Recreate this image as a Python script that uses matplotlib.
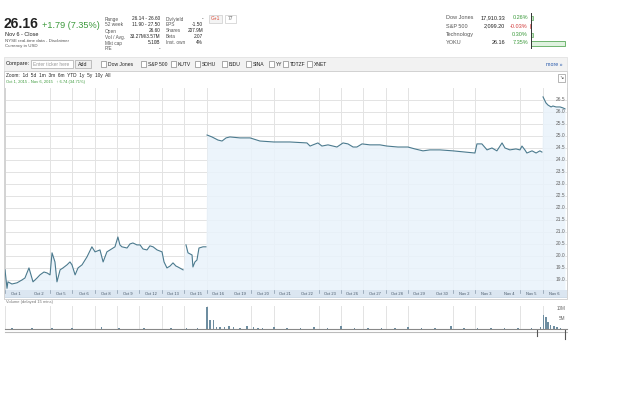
import matplotlib
matplotlib.use("Agg")
import matplotlib.pyplot as plt
from matplotlib.patches import Rectangle

plt.rcParams['font.family'] = ['Liberation Sans', 'DejaVu Sans']

W, H = 638, 399

# price readings: trading-day position (0 = Oct 1 open) and price in USD
seg_a_days = [0.00, 0.09, 0.13, 0.31, 0.54, 0.76, 0.89, 1.07, 1.25, 1.43, 1.56, 1.74, 1.88,
              2.01, 2.10, 2.23, 2.32, 2.46, 2.59, 2.77, 2.90, 2.99, 3.13, 3.26, 3.44, 3.66,
              3.88, 4.02, 4.24, 4.38, 4.55, 4.69, 4.91, 5.04, 5.13, 5.22, 5.45, 5.58, 5.71,
              5.89, 6.03, 6.16, 6.34, 6.47, 6.61, 6.79, 7.01, 7.10, 7.23, 7.37, 7.50, 7.63,
              7.72, 7.95]
seg_a_price = [19.42, 18.65, 18.92, 18.83, 18.88, 19.00, 19.08, 19.50, 18.92, 19.08, 19.21,
               19.33, 19.29, 19.21, 20.13, 19.75, 18.92, 19.42, 19.50, 19.63, 19.75, 19.63,
               19.21, 19.50, 19.63, 19.96, 20.38, 20.17, 20.25, 19.75, 20.17, 20.25, 20.38,
               20.79, 20.46, 20.38, 20.33, 20.50, 20.54, 20.46, 20.46, 20.29, 20.25, 20.42,
               20.38, 20.25, 20.17, 19.75, 19.50, 19.58, 19.71, 19.58, 19.54, 19.42]
seg_b_days = [8.08, 8.17, 8.35, 8.39, 8.48, 8.57, 8.66, 8.84, 8.97]
seg_b_price = [20.46, 20.13, 20.04, 19.54, 19.75, 19.83, 20.33, 20.38, 20.38]
seg_c_days = [9.02, 9.24, 9.51, 9.69, 9.87, 10.04, 10.49, 10.94, 11.38, 12.00, 12.72, 13.48,
              13.62, 13.75, 13.97, 14.15, 14.42, 14.82, 15.09, 15.31, 15.54, 15.71, 15.94,
              16.29, 16.74, 17.05, 17.54, 17.99, 18.30, 18.66, 18.97, 19.42, 20.00, 20.54,
              20.98, 21.07, 21.29, 21.52, 21.74, 21.96, 22.19, 22.32, 22.54, 22.81, 22.99,
              23.08, 23.21, 23.30, 23.53, 23.71, 23.88, 23.97]
seg_c_price = [25.04, 24.96, 24.83, 24.79, 24.92, 24.96, 24.92, 24.92, 24.79, 24.75, 24.75,
               24.71, 24.58, 24.63, 24.71, 24.58, 24.63, 24.54, 24.71, 24.67, 24.54, 24.54,
               24.67, 24.63, 24.63, 24.58, 24.54, 24.54, 24.46, 24.38, 24.42, 24.42, 24.38,
               24.33, 24.29, 24.67, 24.67, 24.42, 24.50, 24.38, 24.71, 24.50, 24.42, 24.46,
               24.42, 24.58, 24.42, 24.29, 24.38, 24.29, 24.38, 24.33]
seg_d_days = [24.02, 24.15, 24.24, 24.38, 24.46, 24.60, 24.78, 24.91, 25.00]
seg_d_price = [26.63, 26.38, 26.29, 26.21, 26.25, 26.21, 26.21, 26.17, 26.13]

# volume readings (millions)
vol_days = [0.3, 1.2, 2.1, 3.0, 4.3, 5.1, 6.2, 7.4, 8.1, 8.6,
            9.02, 9.15, 9.30, 9.45, 9.6, 9.8, 10.0, 10.2, 10.5, 10.8, 11.1, 11.3, 11.5,
            12.0, 12.6, 13.2, 13.8, 14.4, 15.0, 15.6, 16.2, 16.8, 17.4, 18.0, 18.6, 19.2,
            19.9, 20.5, 21.1, 21.7, 22.3, 22.9, 23.5, 23.9,
            24.05, 24.15, 24.25, 24.35, 24.5, 24.65, 24.8]
vol_m = [0.5, 0.4, 0.6, 0.4, 0.8, 0.5, 0.4, 0.5, 0.6, 0.7,
         10.5, 4.3, 4.3, 0.9, 1.0, 0.8, 1.2, 0.9, 0.7, 1.4, 0.8, 0.6, 0.7,
         0.9, 0.6, 0.7, 0.8, 0.6, 1.2, 0.6, 0.7, 0.5, 0.6, 0.9, 0.6, 0.5,
         1.5, 0.6, 0.7, 0.5, 0.6, 0.5, 0.6, 0.8,
         6.7, 5.7, 3.3, 1.9, 1.2, 0.8, 0.6]

day_labels = ['Oct 1', 'Oct 2', 'Oct 5', 'Oct 6', 'Oct 8', 'Oct 9', 'Oct 12', 'Oct 13',
              'Oct 15', 'Oct 16', 'Oct 19', 'Oct 20', 'Oct 21', 'Oct 22', 'Oct 23',
              'Oct 26', 'Oct 27', 'Oct 28', 'Oct 29', 'Oct 30', 'Nov 2', 'Nov 3',
              'Nov 4', 'Nov 5', 'Nov 6']
grid_days = [0, 2, 3, 4, 5, 6, 7, 8, 9, 11, 12, 14, 15, 16, 17, 18, 20, 21, 23, 24]
price_ticks = [26.5, 26.0, 25.5, 25.0, 24.5, 24.0, 23.5, 23.0, 22.5, 22.0, 21.5, 21.0,
               20.5, 20.0, 19.5, 19.0]
cmp_names = ['Dow Jones', 'S&P 500', 'KUTV', 'SOHU', 'BIDU', 'SINA', 'YY', 'TDTZF', 'XNET']


def box(x0, y0, x1, y1):
    return [x0 / W, 1 - y1 / H, (x1 - x0) / W, (y1 - y0) / H]


fig = plt.figure(figsize=(W / 100, H / 100), dpi=100)
fig.patch.set_facecolor('white')

# page overlay in pixel coordinates
pg = fig.add_axes([0, 0, 1, 1])
pg.set_xlim(0, W)
pg.set_ylim(H, 0)
pg.axis('off')

green = '#3c9a3c'
red = '#d23c3c'
grey = '#555555'

pg.text(4, 28.5, '26.16', fontsize=10, fontweight='bold', color='#222222', va='baseline')
pg.text(42, 28.5, '+1.79 (7.35%)', fontsize=6.6, color=green, va='baseline')
pg.text(5, 35, 'Nov 6 - Close', fontsize=4.0, color='#222222', va='center')
pg.text(5, 40.5, 'NYSE real-time data - Disclaimer', fontsize=3.2, color=grey, va='center')
pg.text(5, 45.5, 'Currency in USD', fontsize=3.2, color=grey, va='center')

col1 = ['Range', '52 week', 'Open', 'Vol / Avg.', 'Mkt cap', 'P/E']
col1_v = ['26.14 - 26.60', '11.90 - 27.50', '26.60', '33.27M/3.57M', '5.10B', '-']
col2 = ['Div/yield', 'EPS', 'Shares', 'Beta', 'Inst. own']
col2_v = ['-', '-1.50', '207.9M', '2.07', '4%']
for i, (k, v) in enumerate(zip(col1, col1_v)):
    pg.text(105, 19 + i * 6, k, fontsize=3.4, color=grey, va='center')
    pg.text(160, 19 + i * 6, v, fontsize=3.4, color='#222222', va='center', ha='right')
for i, (k, v) in enumerate(zip(col2, col2_v)):
    pg.text(166, 19 + i * 6, k, fontsize=3.4, color=grey, va='center')
    pg.text(203, 19 + i * 6, v, fontsize=3.4, color='#222222', va='center', ha='right')

pg.add_patch(Rectangle((209, 15), 13, 8, fc='#f4f4f4', ec='#cccccc', lw=0.5))
pg.text(215.5, 19, 'G+1', fontsize=3.5, color='#dd4b39', ha='center', va='center')
pg.add_patch(Rectangle((225, 15), 11, 8, fc='white', ec='#cccccc', lw=0.5))
pg.text(230.5, 19, '77', fontsize=3.5, color=grey, ha='center', va='center')

idx_names = ['Dow Jones', 'S&P 500', 'Technology', 'YOKU']
idx_vals = ['17,910.33', '2,099.20', '', '26.16']
idx_pct = ['0.26%', '-0.03%', '0.30%', '7.35%']
idx_col = [green, red, green, green]
for i in range(4):
    y = 17.5 + i * 8.5
    pg.text(446, y, idx_names[i], fontsize=4, color=grey, va='center')
    pg.text(505, y, idx_vals[i], fontsize=4, color='#222222', va='center', ha='right')
    pg.text(528, y, idx_pct[i], fontsize=4, color=idx_col[i], va='center', ha='right')
pg.plot([531, 531], [13, 48], color='#333333', lw=0.7)
pg.add_patch(Rectangle((531, 15.5), 1.5, 4, fc='#c8e6c8', ec=green, lw=0.4))
pg.add_patch(Rectangle((529.8, 24), 1.2, 4, fc='#f2c8c8', ec=red, lw=0.4))
pg.add_patch(Rectangle((531, 32.5), 1.5, 4, fc='#c8e6c8', ec=green, lw=0.4))
pg.add_patch(Rectangle((531, 41), 34, 5, fc='#dff2df', ec=green, lw=0.5))

# compare bar
pg.add_patch(Rectangle((4, 57), 563, 14, fc='#f2f2f2', ec='#dddddd', lw=0.5))
pg.text(6, 64, 'Compare:', fontsize=4, color='#222222', va='center')
pg.add_patch(Rectangle((31, 60), 42, 8, fc='white', ec='#aaaaaa', lw=0.5))
pg.text(33, 64, 'Enter ticker here', fontsize=3.5, color='#999999', va='center')
pg.add_patch(Rectangle((75, 60), 16, 8, fc='#eeeeee', ec='#aaaaaa', lw=0.5))
pg.text(83, 64, 'Add', fontsize=3.8, color='#222222', va='center', ha='center')
cmp_x = [101, 141, 171, 195, 222, 246, 269, 283, 307]
for cx, name in zip(cmp_x, cmp_names):
    pg.add_patch(Rectangle((cx, 61), 5, 5.5, fc='white', ec='#888888', lw=0.5))
    pg.text(cx + 7, 64, name, fontsize=3.6, color='#222222', va='center')
pg.text(562, 64, 'more \u00bb', fontsize=3.8, color='#2255aa', va='center', ha='right')

# chart frame and zoom row
pg.add_patch(Rectangle((4, 71), 563, 228, fc='white', ec='#cccccc', lw=0.6))
pg.text(6, 75.5, 'Zoom:  1d  5d  1m  3m  6m  YTD  1y  5y  10y  All', fontsize=3.4,
        color='#222222', va='center')
pg.text(6, 81.5, 'Oct 1, 2015 - Nov 6, 2015   \u2191 6.74 (34.71%)', fontsize=3.0,
        color=green, va='center')
pg.add_patch(Rectangle((558, 74), 7, 8, fc='white', ec='#999999', lw=0.5))
pg.text(561.5, 78, '\u2198', fontsize=3.5, color='#444444', ha='center', va='center')

line_col = '#4b7a8e'
fill_col = '#e9f3fb'
grid_col = '#e3e3e3'

# price chart
ax = fig.add_axes(box(5, 88, 567, 290))
ax.set_xlim(0, 25.09)
ax.set_ylim(18.58, 27.0)
ax.set_xticks([])
ax.set_yticks([])
for s in ax.spines.values():
    s.set_color('#d0d0d0')
    s.set_linewidth(0.6)
ax.spines['top'].set_visible(False)
for v in price_ticks:
    ax.axhline(v, color=grid_col, lw=0.7, zorder=0)
for d in grid_days:
    ax.axvline(d, color=grid_col, lw=0.7, zorder=0)

all_days = seg_a_days + seg_b_days + seg_c_days + seg_d_days
all_price = seg_a_price + seg_b_price + seg_c_price + seg_d_price
ax.fill_between(all_days, all_price, 18.58, color=fill_col, alpha=0.85, lw=0, zorder=1)
for dd, pp in [(seg_a_days, seg_a_price), (seg_b_days, seg_b_price),
               (seg_c_days, seg_c_price), (seg_d_days, seg_d_price)]:
    ax.plot(dd, pp, color=line_col, lw=0.8, zorder=3)
for v in price_ticks:
    ax.text(0.997, v, f'{v:.1f}', transform=ax.get_yaxis_transform(), fontsize=3.5,
            color='#666666', ha='right', va='center', zorder=4)

# date strip
strip = fig.add_axes(box(5, 290, 567, 298))
strip.set_xlim(0, 25.09)
strip.set_ylim(0, 1)
strip.set_facecolor('#dbe6f1')
strip.set_xticks([])
strip.set_yticks([])
for s in strip.spines.values():
    s.set_visible(False)
strip.axhline(0.02, color='#9fb4c8', lw=1.0)
for i, lab in enumerate(day_labels):
    strip.text(i + 0.5, 0.45, lab, fontsize=2.9, color='#445566', ha='center', va='center')
for d in grid_days:
    strip.plot([d, d], [0.65, 1.0], color='#8899aa', lw=0.5)

# volume chart
pg.text(6, 302, 'Volume (delayed 15 mins)', fontsize=3.0, color='#777777', va='center')
vax = fig.add_axes(box(5, 306, 567, 329))
vax.set_xlim(0, 25.09)
vax.set_ylim(0, 11)
vax.set_xticks([])
vax.set_yticks([])
for s in vax.spines.values():
    s.set_visible(False)
vax.spines['bottom'].set_visible(True)
vax.spines['bottom'].set_color('#888888')
vax.spines['bottom'].set_linewidth(0.8)
for d in grid_days:
    vax.axvline(d, color=grid_col, lw=0.7, zorder=0)
vax.bar(vol_days, vol_m, width=0.07, color='#6d8da0', lw=0, zorder=2)
for v, lab in [(10, '10M'), (5, '5M')]:
    vax.text(0.997, v, lab, transform=vax.get_yaxis_transform(), fontsize=3.3,
             color='#666666', ha='right', va='center')

# scroll bar under the volume panel
pg.plot([5, 567], [332, 332], color='#bbbbbb', lw=0.8)
pg.plot([537, 537], [330, 336], color='#555555', lw=0.8)
pg.plot([565, 565], [330, 339], color='#555555', lw=0.8)

fig.savefig('out.png', dpi=100)
